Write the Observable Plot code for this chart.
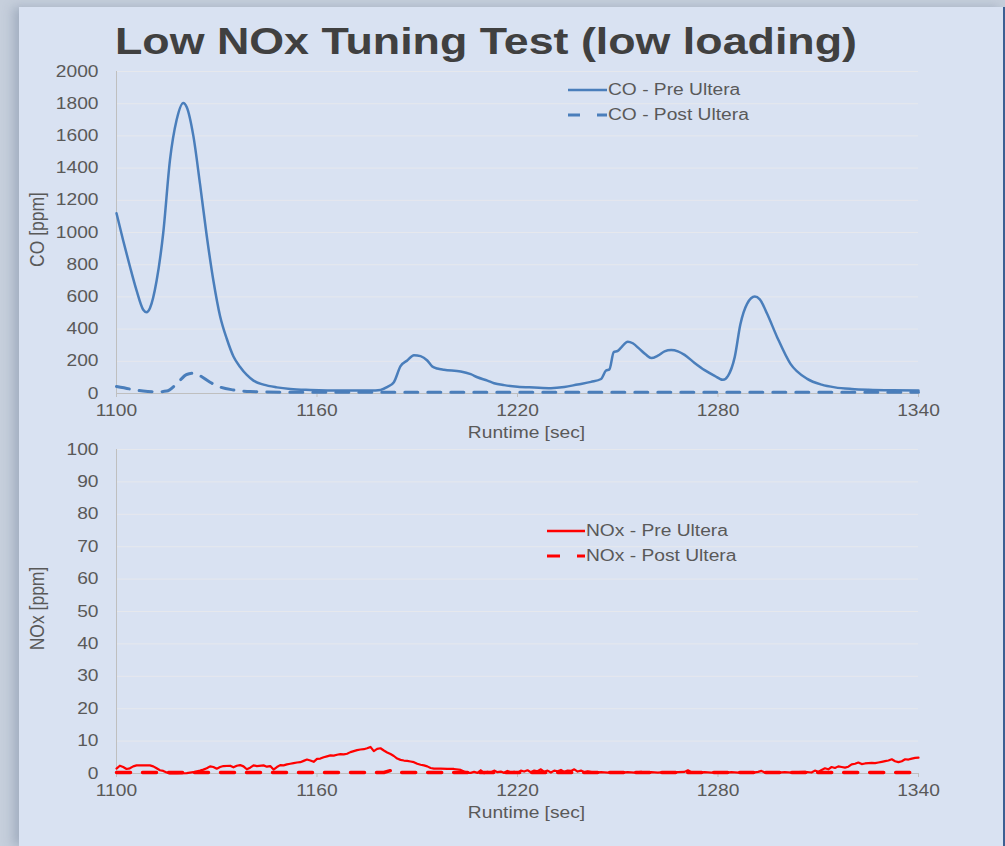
<!DOCTYPE html>
<html>
<head>
<meta charset="utf-8">
<script src="https://cdn.jsdelivr.net/npm/d3@7"></script>
<script src="https://cdn.jsdelivr.net/npm/@observablehq/plot@0.6"></script>
<style>
  html, body { margin: 0; padding: 0; }
  body { width: 1005px; height: 846px; background: #c6cfdc; position: relative; overflow: hidden; font-family: "Liberation Sans", Arial, sans-serif; }
  #panel { position: absolute; left: 19px; top: 7px; width: 984px; height: 839px; background: #d9e2f2; box-shadow: -6px 0 10px rgba(120,135,160,0.45); border-right: 2px solid #3d5f92; }
  #title { position: absolute; left: 115px; top: 23px; font: bold 37px/37px "Liberation Sans", Arial, sans-serif; color: #404040; white-space: nowrap; transform: scaleX(1.21); transform-origin: 0 0; }
  .chart { position: absolute; left: 0; }
  .legend { position: absolute; font: 16px "Liberation Sans", Arial, sans-serif; color: #595959; white-space: nowrap; }
  .legend .row { position: absolute; height: 20px; display: flex; align-items: center; }
  .legend svg { display: block; }
  .legend span { display: inline-block; transform: scaleX(1.2); transform-origin: 0 50%; }
</style>
</head>
<body>
<div id="panel"></div>
<div id="title">Low NOx Tuning Test (low loading)</div>
<div id="top" class="chart" style="top:0px"></div>
<div id="bottom" class="chart" style="top:420px"></div>
<div id="legendTop" class="legend"></div>
<div id="legendBottom" class="legend"></div>
<script>
// ---------- data ----------
const xTicks = [1100, 1160, 1220, 1280, 1340];
const coTicks = [0, 200, 400, 600, 800, 1000, 1200, 1400, 1600, 1800, 2000];
const noxTicks = [0, 10, 20, 30, 40, 50, 60, 70, 80, 90, 100];

const coPreTime = [1100,1102,1104,1106,1108,1109,1110,1112,1114,1116,1118,1120,1121,1123,1125,1127,1129,1131,1133,1135,1137,1139,1141,1144,1148,1152,1158,1168,1176,1179,1181,1183,1185,1187,1189,1191,1193,1194.5,1196,1198,1203,1206,1208,1211,1213,1216,1220,1225,1230,1234,1238,1242,1245,1246.5,1247.5,1248.8,1250,1251,1253,1254.5,1256.5,1258.5,1260,1262,1264,1266,1268,1270,1273,1276,1279,1281.5,1283,1285,1286.7,1288.7,1291,1292.5,1294.7,1297.7,1301.7,1306.7,1311,1315,1320,1325,1332,1340];
const coPreValue = [1120,950,790,640,520,505,530,700,1000,1450,1700,1805,1780,1600,1300,980,700,480,340,230,165,115,80,55,38,28,22,18,18,22,40,70,170,205,238,232,205,168,155,147,137,120,101,80,64,52,42,37,33,40,56,72,90,143,150,257,265,285,322,312,277,240,220,235,262,270,262,240,190,145,110,85,110,226,430,557,602,585,495,350,184,91,55,38,28,23,20,19];

const coPostTime = [1100,1104,1108,1112,1115,1118,1121,1123,1125,1128,1131,1135,1140,1150,1200,1260,1300,1340];
const coPostValue = [43,28,15,10,15,60,118,126,110,70,40,22,12,8,8,8,8,8];

const noxPreTime = [1100,1101,1102,1103,1104,1105,1106,1108,1110,1111,1112,1113,1114,1115,1116,1118,1121,1123,1125,1126,1127,1128,1129,1130,1131,1132,1134,1135,1136,1137,1138,1139,1140,1141,1142,1144,1145,1146,1147,1148,1149,1150,1151,1152,1153,1154,1155,1156,1157,1158,1159,1160,1161,1162,1163,1164,1165,1166,1167,1168,1169,1170,1171,1172,1173,1174,1175,1176,1177,1178,1179,1180,1181,1182,1183,1184,1185,1186,1187,1188,1189,1190,1191,1192,1193,1194,1195,1197,1199,1201,1203,1204,1205,1206,1207,1208,1209,1210,1211,1212,1213,1214,1215,1216,1217,1218,1219,1220,1221,1222,1223,1224,1225,1226,1227,1228,1229,1230,1231,1232,1233,1234,1235,1236,1237,1238,1239,1240,1241,1243,1245,1247,1249,1251,1253,1255,1257,1258,1260,1262,1264,1266,1268,1270,1271,1272,1274,1276,1278,1280,1282,1284,1286,1288,1290,1292,1293,1294,1296,1298,1300,1302,1304,1306,1308,1309,1310,1311,1312,1313,1314,1315,1316,1317,1318,1319,1320,1321,1322,1323,1324,1325,1326,1327,1328,1329,1330,1331,1332,1333,1334,1335,1336,1337,1338,1339,1340];
const noxPreValue = [1.5,2.4,2.0,1.4,1.6,2.2,2.5,2.5,2.5,2.2,1.6,1.0,0.8,0.3,0.0,0.0,0.1,0.4,0.9,1.2,1.6,2.2,2.0,1.5,2.0,2.3,2.4,1.9,2.4,2.6,2.2,1.3,1.8,2.5,2.3,2.5,2.1,2.3,1.2,2.0,2.6,2.5,2.8,3.0,3.2,3.4,3.5,3.9,4.3,4.0,3.6,4.5,4.6,5.0,5.3,5.6,5.5,5.8,6.0,5.9,6.1,6.6,6.9,7.2,7.4,7.5,7.8,8.2,6.9,7.6,7.8,7.1,6.5,6.0,5.4,4.6,4.2,4.0,3.9,3.7,3.5,3.0,2.7,2.5,2.2,1.7,1.5,1.5,1.4,1.4,1.1,0.6,0.2,0.2,0.5,0.2,1.0,0.1,0.5,0.3,0.9,0.4,0.6,0.2,0.8,0.3,0.5,0.2,0.9,0.6,1.0,0.4,0.9,0.7,1.3,0.5,0.9,0.3,0.9,0.7,1.1,0.5,0.9,0.8,1.3,0.6,0.9,0.4,0.7,0.3,0.4,0.3,0.4,0.3,0.4,0.3,0.5,0.3,0.4,0.3,0.4,0.3,0.4,0.5,1.0,0.4,0.3,0.4,0.3,0.4,0.2,0.4,0.3,0.4,0.2,0.5,0.8,0.3,0.4,0.3,0.4,0.3,0.4,0.5,0.3,0.9,0.5,1.1,1.6,1.3,2.0,1.7,2.2,2.0,1.8,2.1,2.8,3.0,3.4,2.9,3.1,3.2,3.3,3.2,3.4,3.6,3.8,4.0,4.4,3.8,3.5,3.8,4.4,4.3,4.6,4.8,4.9];

const noxPostTime = [1100,1150,1180,1182,1183,1220,1280,1340];
const noxPostValue = [0.3,0.3,0.3,0.9,0.3,0.3,0.3,0.3];

const legendTop = ["CO - Pre Ultera", "CO - Post Ultera"];
const legendBottom = ["NOx - Pre Ultera", "NOx - Post Ultera"];

// ---------- build ----------
const zip = (t, v) => t.map((d, i) => ({t: d, v: v[i]}));
const coPre = zip(coPreTime, coPreValue);
const coPost = zip(coPostTime, coPostValue);
const noxPre = zip(noxPreTime, noxPreValue);
const noxPost = zip(noxPostTime, noxPostValue);

const blue = "#4a7ebb";
const red = "#ff0000";
const axisGray = "#bfbfbf";
const gridColor = "#e6e8ed";
const textColor = "#595959";
const baseStyle = {background: "transparent", fontFamily: "'Liberation Sans', Arial, sans-serif", fontSize: "16px", color: textColor, overflow: "visible"};

function chart({height, marginTop, marginBottom, yDomain, yTicks, yLabel, series}) {
  return Plot.plot({
    width: 1005, height,
    marginLeft: 116, marginRight: 87, marginTop, marginBottom,
    style: baseStyle,
    x: {domain: [1100, 1340]},
    y: {domain: yDomain},
    marks: [
      Plot.gridY(yTicks.slice(1), {stroke: gridColor, strokeOpacity: 1, strokeWidth: 1}),
      Plot.ruleX([1100], {stroke: axisGray, strokeWidth: 1}),
      Plot.ruleY([0], {stroke: axisGray, strokeWidth: 1}),
      Plot.axisY({ticks: yTicks, tickFormat: "d", tickSize: 0, tickPadding: 18, label: null, fill: textColor}),
      Plot.axisX({ticks: xTicks, tickFormat: "d", tickSize: 4, tickPadding: 7, label: null, stroke: axisGray, fill: textColor}),
      ...series,
      Plot.text([yLabel], {frameAnchor: "left", textAnchor: "middle", rotate: -90, dx: -79, dy: -3, fontSize: 17.5, fill: textColor}),
      Plot.text(["Runtime [sec]"], {frameAnchor: "bottom", dy: 44, dx: 9, fontSize: 16, fill: textColor})
    ]
  });
}

// stretch glyphs horizontally about each text's anchor (the reference picture is horizontally stretched)
function stretchText(svg, sx) {
  svg.querySelectorAll("text").forEach(t => {
    const tr = t.getAttribute("transform");
    if (!tr) return;
    t.setAttribute("transform", tr + (tr.includes("rotate") ? ` scale(1,${sx})` : ` scale(${sx},1)`));
  });
}

const topChart = chart({
  height: 450, marginTop: 71, marginBottom: 57,
  yDomain: [0, 2000], yTicks: coTicks, yLabel: "CO [ppm]",
  series: [
    Plot.line(coPost, {x: "t", y: "v", stroke: blue, strokeWidth: 3, strokeDasharray: "13,10", curve: "monotone-x"}),
    Plot.line(coPre, {x: "t", y: "v", stroke: blue, strokeWidth: 2.5, curve: "monotone-x"})
  ]
});
stretchText(topChart, 1.2);
document.getElementById("top").appendChild(topChart);

const bottomChart = chart({
  height: 426, marginTop: 29, marginBottom: 73,
  yDomain: [0, 100], yTicks: noxTicks, yLabel: "NOx [ppm]",
  series: [
    Plot.line(noxPost, {x: "t", y: "v", stroke: red, strokeWidth: 3.5, strokeDasharray: "14,12"}),
    Plot.line(noxPre, {x: "t", y: "v", stroke: red, strokeWidth: 2.2})
  ]
});
stretchText(bottomChart, 1.2);
document.getElementById("bottom").appendChild(bottomChart);

// ---------- legends ----------
function legend(el, labels, color, x0, y0, gap, lineW, dash) {
  const root = document.getElementById(el);
  root.style.left = x0 + "px";
  root.style.top = y0 + "px";
  labels.forEach((lab, i) => {
    const row = document.createElement("div");
    row.className = "row";
    row.style.top = (i * gap - 10) + "px";
    const ns = "http://www.w3.org/2000/svg";
    const svg = document.createElementNS(ns, "svg");
    svg.setAttribute("width", lineW + 1);
    svg.setAttribute("height", 8);
    const ln = document.createElementNS(ns, "line");
    ln.setAttribute("x1", 0); ln.setAttribute("x2", lineW);
    ln.setAttribute("y1", 4); ln.setAttribute("y2", 4);
    ln.setAttribute("stroke", color);
    ln.setAttribute("stroke-width", i === 0 ? 2.5 : 3);
    if (i === 1) ln.setAttribute("stroke-dasharray", dash);
    svg.appendChild(ln);
    row.appendChild(svg);
    const sp = document.createElement("span");
    sp.textContent = lab;
    row.appendChild(sp);
    root.appendChild(row);
  });
}
legend("legendTop", legendTop, blue, 568, 90, 25, 39, "12,17");
legend("legendBottom", legendBottom, red, 547, 531, 25, 38, "13,17");
</script>
</body>
</html>
